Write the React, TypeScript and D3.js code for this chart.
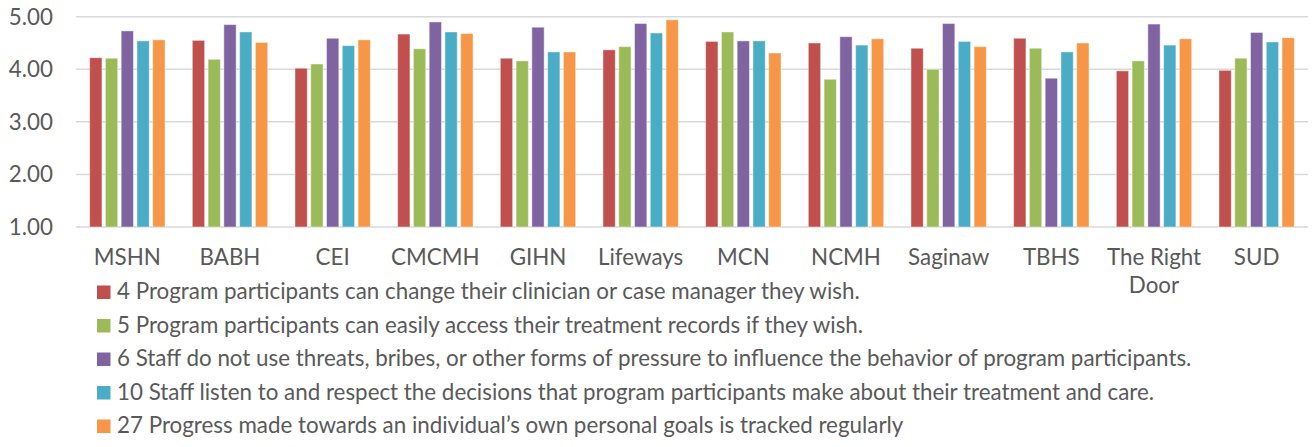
import React, { useMemo } from "react";
import * as d3 from "d3";

const categories = ["MSHN", "BABH", "CEI", "CMCMH", "GIHN", "Lifeways", "MCN", "NCMH", "Saginaw", "TBHS", "The Right Door", "SUD"];
const seriesNames = [
  "4 Program participants can change their clinician or case manager they wish.",
  "5 Program participants can easily access their treatment records if they wish.",
  "6 Staff do not use threats, bribes, or other forms of pressure to influence the behavior of program participants.",
  "10 Staff listen to and respect the decisions that program participants make about their treatment and care.",
  "27 Progress made towards an individual\u2019s own personal goals is tracked regularly",
];
const seriesColors = ["#C0504D", "#9BBB59", "#8064A2", "#4BACC6", "#F79646"];
const q4 = [4.22, 4.55, 4.02, 4.67, 4.21, 4.37, 4.53, 4.5, 4.4, 4.59, 3.97, 3.98];
const q5 = [4.21, 4.19, 4.1, 4.39, 4.16, 4.43, 4.71, 3.81, 4.0, 4.4, 4.16, 4.21];
const q6 = [4.73, 4.85, 4.59, 4.9, 4.8, 4.87, 4.54, 4.62, 4.87, 3.83, 4.86, 4.7];
const q10 = [4.54, 4.71, 4.45, 4.71, 4.33, 4.69, 4.54, 4.46, 4.53, 4.33, 4.46, 4.52];
const q27 = [4.56, 4.51, 4.56, 4.68, 4.33, 4.94, 4.31, 4.58, 4.43, 4.5, 4.58, 4.6];
const seriesValues = [q4, q5, q6, q10, q27];
const yTicks = [1, 2, 3, 4, 5];

const W = 1312;
const H = 447;
const FONT = "Lato, 'Noto Sans', sans-serif";
const TEXT_COLOR = "#595959";
const GRID_COLOR = "#D9D9D9";

function useMeasure() {
  return useMemo(() => {
    const c = document.createElement("canvas");
    const ctx = c.getContext("2d")!;
    return (text: string, size: number) => {
      ctx.font = `${size}px ${FONT}`;
      return ctx.measureText(text).width;
    };
  }, []);
}

export default function App() {
  const measure = useMeasure();
  // fit font size so the longest legend line matches the reference width
  const fontSize = useMemo(() => {
    const w = measure(seriesNames[2], 100);
    return (1078 / w) * 100;
  }, [measure]);

  const margin = { left: 76, right: 4, top: 16.7, bottom: 227 };
  const x = d3
    .scaleBand<string>()
    .domain(categories)
    .range([margin.left, W - margin.right])
    .paddingInner(0.266)
    .paddingOuter(0.133);
  const xs = d3
    .scaleBand<number>()
    .domain(d3.range(seriesNames.length))
    .range([0, x.bandwidth()])
    .paddingInner(0.22);
  const y = d3.scaleLinear().domain([1, 5]).range([227, 16.7]);

  const step = x.step();
  const wrap = (label: string) => {
    const words = label.split(" ");
    const lines: string[] = [];
    let cur = "";
    for (const w of words) {
      const t = cur ? cur + " " + w : w;
      if (measure(t, fontSize) > step - 4 && cur) {
        lines.push(cur);
        cur = w;
      } else cur = t;
    }
    lines.push(cur);
    return lines;
  };

  const capH = fontSize * 0.72;
  const legendX = 97;
  const legendBase0 = 299;
  const legendStep = 33.5;

  return (
    <svg
      width={W}
      height={H}
      style={{ position: "absolute", left: 0, top: 0, background: "#fff" }}
      fontFamily={FONT}
    >
      <rect x={0} y={0} width={W} height={H} fill="#fff" />
      {/* gridlines */}
      {yTicks.map((t) => (
        <line
          key={t}
          x1={margin.left}
          x2={W - margin.right}
          y1={y(t)}
          y2={y(t)}
          stroke={GRID_COLOR}
          strokeWidth={1.5}
        />
      ))}
      {/* y labels */}
      {yTicks.map((t) => (
        <text
          key={"l" + t}
          x={53}
          y={y(t) + capH / 2}
          textAnchor="end"
          fontSize={fontSize}
          fill={TEXT_COLOR}
        >
          {d3.format(".2f")(t)}
        </text>
      ))}
      {/* bars */}
      {categories.map((c, ci) => (
        <g key={c} transform={`translate(${x(c)},0)`}>
          {seriesValues.map((vals, si) => (
            <rect
              key={si}
              x={xs(si)}
              y={y(vals[ci])}
              width={xs.bandwidth()}
              height={y(1) - y(vals[ci])}
              fill={seriesColors[si]}
              stroke="#ffffff"
              strokeOpacity={0.45}
              strokeWidth={1}
            />
          ))}
        </g>
      ))}
      {/* category labels */}
      {categories.map((c) => {
        const lines = wrap(c);
        const cx = (x(c) as number) + x.bandwidth() / 2;
        return (
          <text key={"c" + c} x={cx} y={265} textAnchor="middle" fontSize={fontSize} fill={TEXT_COLOR}>
            {lines.map((ln, i) => (
              <tspan key={i} x={cx} dy={i === 0 ? 0 : 28}>
                {ln}
              </tspan>
            ))}
          </text>
        );
      })}
      {/* legend */}
      {seriesNames.map((n, i) => {
        const base = legendBase0 + i * legendStep;
        return (
          <g key={n}>
            <rect x={legendX} y={base - 13.5} width={13.5} height={13.5} fill={seriesColors[i]} />
            <text x={117} y={base} fontSize={fontSize} fill={TEXT_COLOR}>
              {n}
            </text>
          </g>
        );
      })}
    </svg>
  );
}
